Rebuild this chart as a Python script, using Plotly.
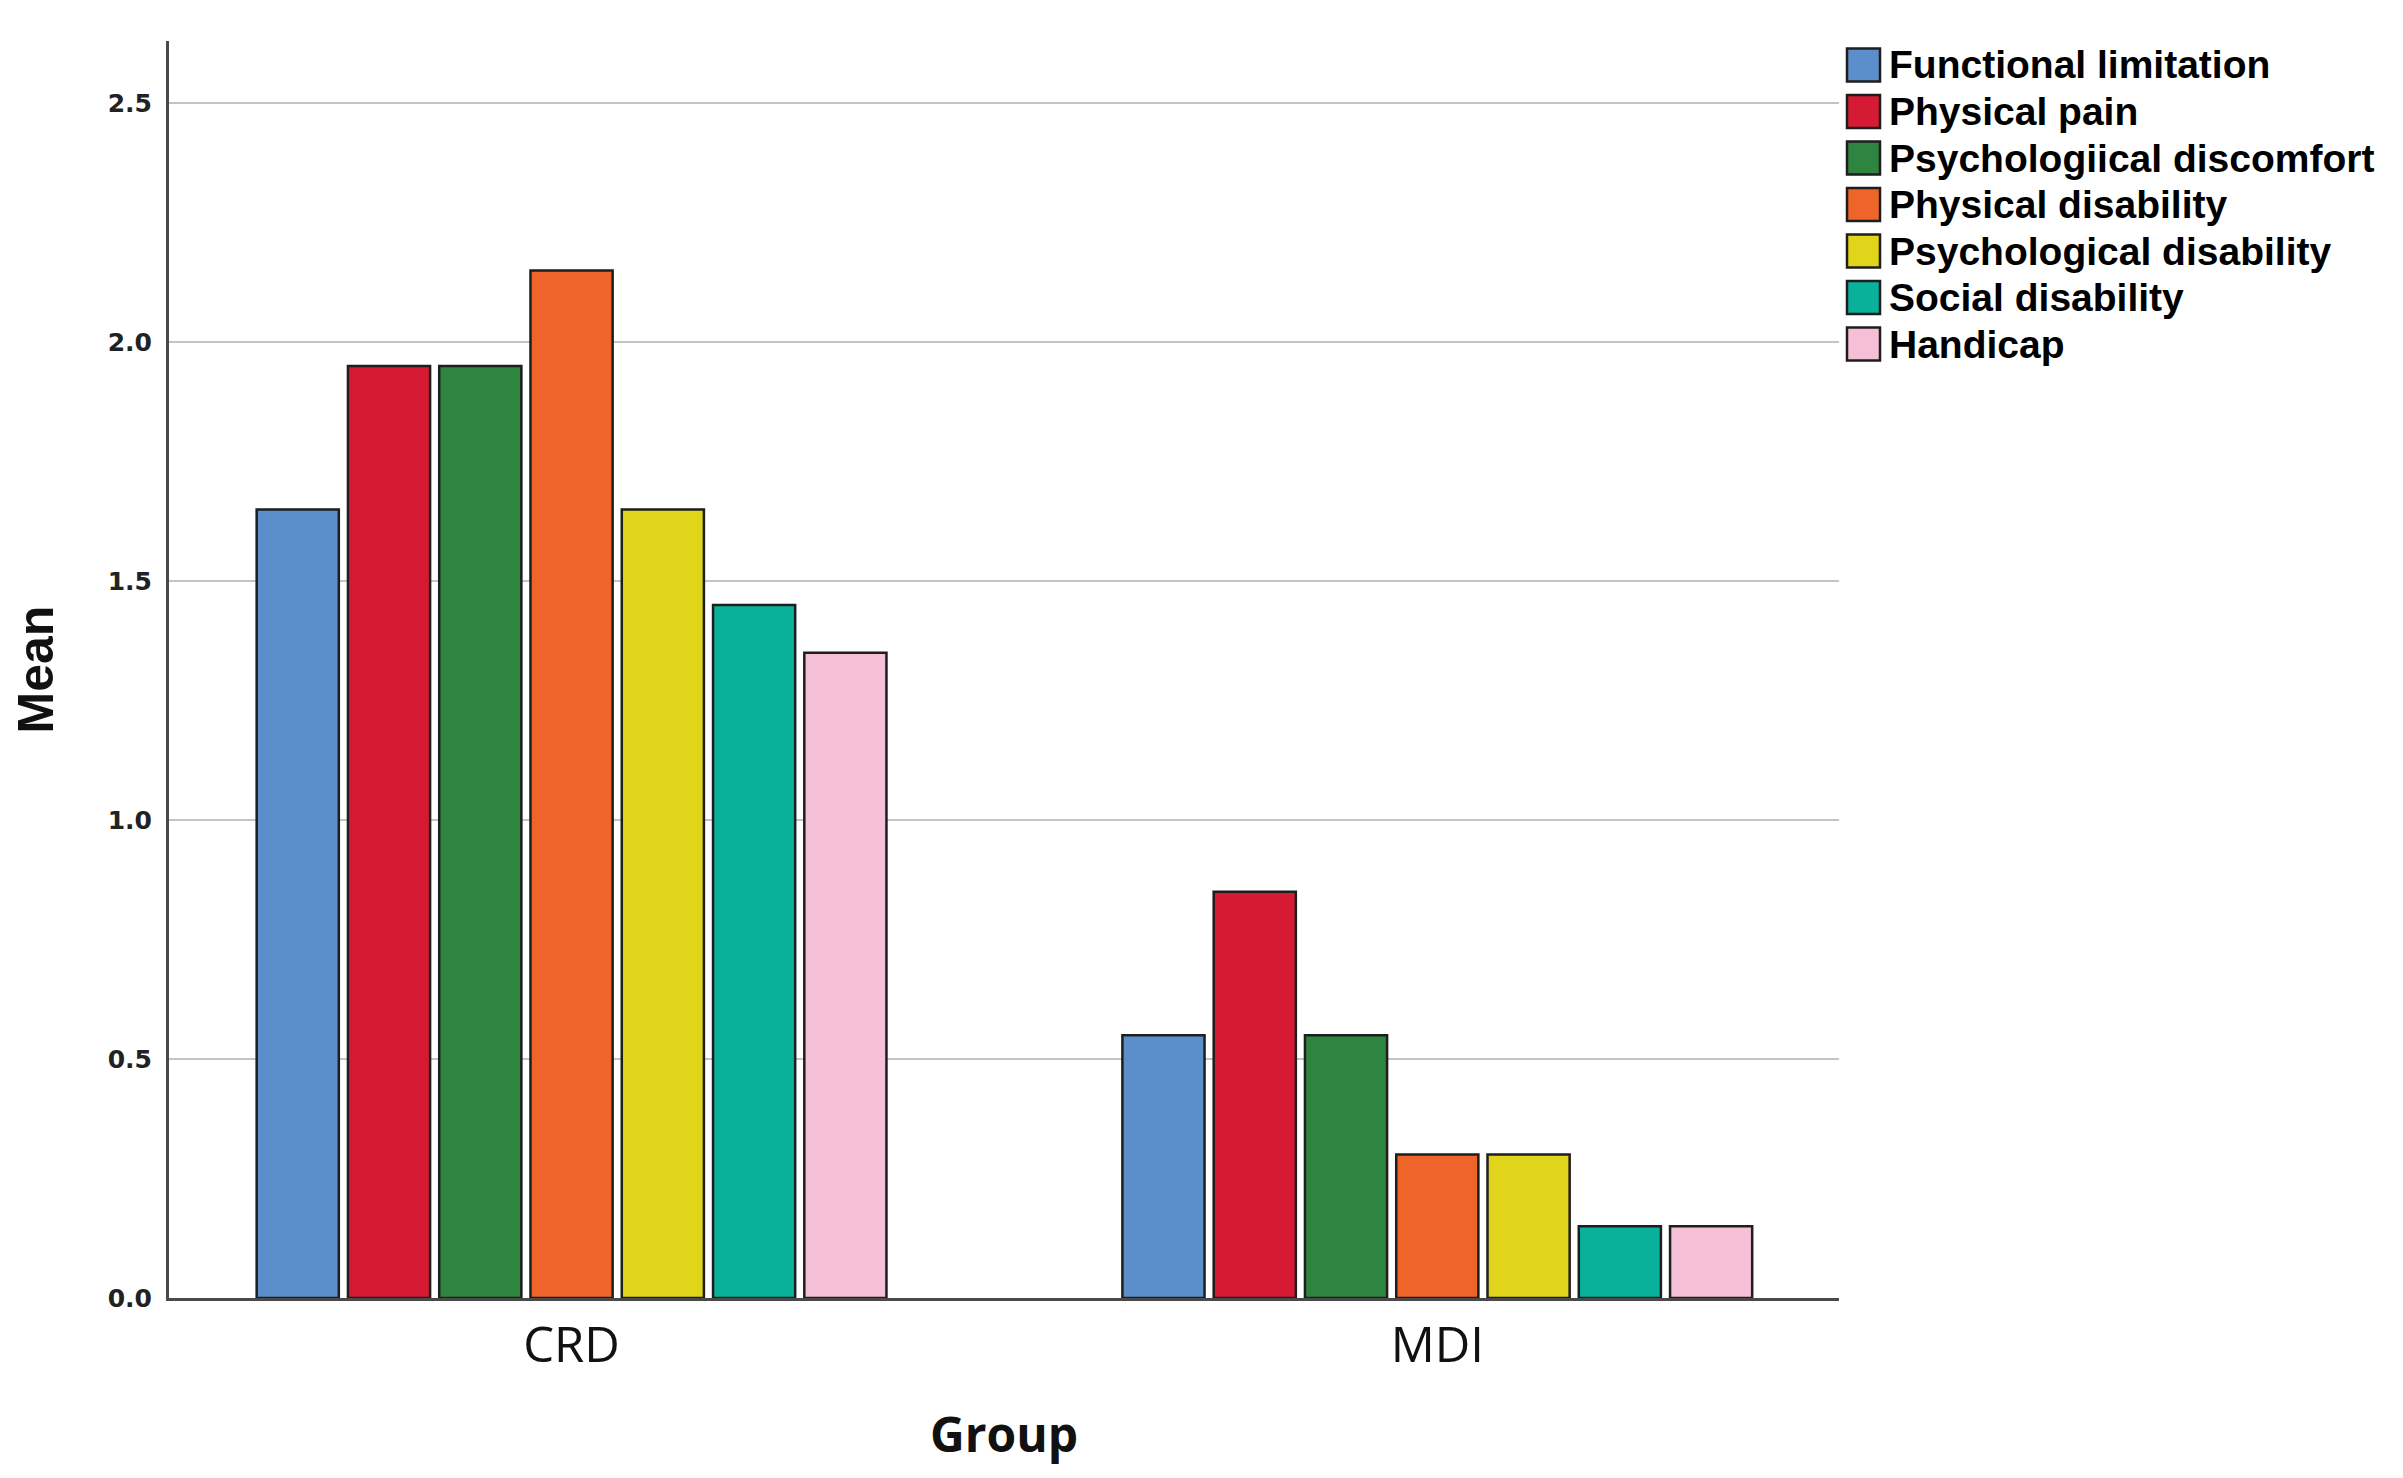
import plotly.graph_objects as go

groups = ["CRD", "MDI"]
series_names = [
    "Functional limitation",
    "Physical pain",
    "Psychologiical discomfort",
    "Physical disability",
    "Psychological disability",
    "Social disability",
    "Handicap",
]
crd_values = [1.65, 1.95, 1.95, 2.15, 1.65, 1.45, 1.35]
mdi_values = [0.55, 0.85, 0.55, 0.30, 0.30, 0.15, 0.15]
colors = ["#5b8fcb", "#d71a34", "#2e8540", "#ef6428", "#e0d51a", "#0ab19a", "#f5bfd6"]
y_ticks = [0.0, 0.5, 1.0, 1.5, 2.0, 2.5]
y_tick_labels = ["0.0", "0.5", "1.0", "1.5", "2.0", "2.5"]

W, H = 2403, 1478
OFF = 8  # page body offset
PL, PR, PT, PB = 169, 1839, 41, 1298  # target plot area in page pixels
L, T = PL - OFF, PT - OFF
R = W - PR + OFF
B = H - PB + OFF

fig = go.Figure()
for i, name in enumerate(series_names):
    fig.add_trace(go.Bar(
        name=name,
        x=groups,
        y=[crd_values[i], mdi_values[i]],
        marker=dict(color=colors[i], line=dict(color="#1e1e1e", width=2.5)),
        showlegend=False,
    ))

# manual legend (large swatches like the original)
plot_w = PR - PL
plot_h = PB - PT
def px_x(p):
    return (p - PL) / plot_w
def px_y(p):
    return (PB - p) / plot_h

row0, pitch, sw = 65, 46.5, 33
for i, name in enumerate(series_names):
    cy = row0 + i * pitch
    fig.add_shape(type="rect", xref="paper", yref="paper",
                  x0=px_x(1847), x1=px_x(1847 + sw),
                  y0=px_y(cy - sw / 2), y1=px_y(cy + sw / 2),
                  fillcolor=colors[i], line=dict(color="#1e1e1e", width=2.5))
    fig.add_annotation(xref="paper", yref="paper", x=px_x(1887), y=px_y(cy),
                       xanchor="left", yanchor="middle", showarrow=False,
                       text=name,
                       font=dict(family="Liberation Sans, Arial, sans-serif",
                                 size=39, color="#000000", weight="bold"))

fig.update_layout(
    width=W, height=H,
    margin=dict(l=L, r=R, t=T, b=B, autoexpand=False),
    paper_bgcolor="white", plot_bgcolor="white",
    barmode="group", bargap=0.262, bargroupgap=0.1,
    showlegend=False,
)
fig.update_xaxes(
    type="category", range=[-0.465, 1.464],
    showline=True, linecolor="#4a4a4a", linewidth=3,
    showgrid=False, zeroline=False, ticks="",
    tickfont=dict(family="Open Sans, sans-serif", size=49, color="#111111"),
    ticklabelstandoff=2,
    title=dict(text="Group", standoff=44,
               font=dict(family="Open Sans, sans-serif", size=48, color="#111111", weight="bold")),
)
fig.update_yaxes(
    range=[0, 2.63],
    tickvals=y_ticks, ticktext=y_tick_labels,
    showline=True, linecolor="#4a4a4a", linewidth=3,
    showgrid=True, gridcolor="#c4c4c4", gridwidth=2,
    zeroline=False, ticks="",
    tickfont=dict(family="DejaVu Sans, sans-serif", size=25, color="#222222", weight="bold"),
    ticklabelstandoff=9,
    title=dict(text="Mean", standoff=56,
               font=dict(family="Liberation Sans Narrow, Liberation Sans, Arial, sans-serif",
                         size=50, color="#111111", weight="bold")),
)

fig.write_html("out.html")
